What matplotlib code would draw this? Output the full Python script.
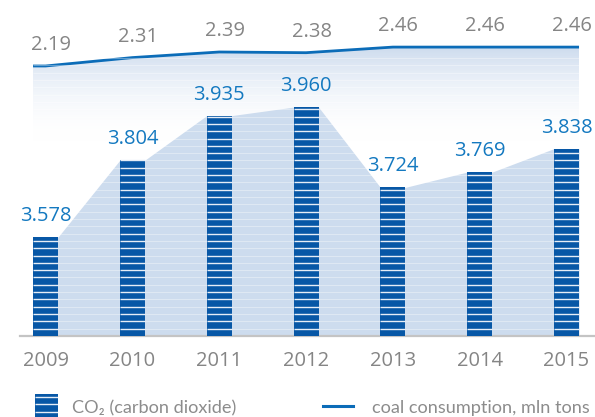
import numpy as np
import matplotlib
matplotlib.use("Agg")
import matplotlib.pyplot as plt
from matplotlib.patches import Polygon, Rectangle
from matplotlib.lines import Line2D
from matplotlib.colors import LinearSegmentedColormap
from matplotlib import font_manager

plt.rcParams['font.family'] = ['Open Sans', 'DejaVu Sans']

# ---- data ----
years = ["2009", "2010", "2011", "2012", "2013", "2014", "2015"]
co2 = [3.578, 3.804, 3.935, 3.960, 3.724, 3.769, 3.838]
coal = [2.19, 2.31, 2.39, 2.38, 2.46, 2.46, 2.46]

# ---- styling ----
BAR_BLUE = "#0757a6"
AREA_BLUE = "#cddcee"
LINE_BLUE = "#0b6cb8"
LABEL_BLUE = "#1479c0"
GREY = "#858585"
AXIS_GREY = "#c4c4c4"

W, H = 595, 417
fig = plt.figure(figsize=(W / 100, H / 100), dpi=100)
ax = fig.add_axes([20 / W, 81 / H, 575 / W, 316 / H])
ax2 = ax.twinx()

x = np.arange(len(years))
bw = 0.288
co2_lo, co2_hi = 3.287, 4.216
coal_lo, coal_hi = -1.667, 2.847

# ---- coal line with gradient fill below it (secondary axis, drawn behind) ----
lx = np.concatenate([[x[0] - bw / 2], x, [x[-1] + bw / 2]])
ly = np.concatenate([[coal[0]], coal, [coal[-1]]])
g_bottom, g_top = 1.10, 2.60
grad_cmap = LinearSegmentedColormap.from_list(
    "fade", [(1, 1, 1, 0.0), (0.757, 0.827, 0.918, 1.0)])
grad = np.linspace(0, 1, 256).reshape(-1, 1)
im = ax2.imshow(grad, extent=(lx[0], lx[-1], g_bottom, g_top), origin="lower",
                aspect="auto", cmap=grad_cmap, interpolation="bilinear", zorder=1)
clip = Polygon(np.column_stack([np.concatenate([lx, [lx[-1], lx[0]]]),
                                np.concatenate([ly, [g_bottom, g_bottom]])]),
               closed=True, transform=ax2.transData, facecolor="none", edgecolor="none")
ax2.add_patch(clip)
im.set_clip_path(clip)
ax2.plot(lx, ly, color=LINE_BLUE, lw=2.0, solid_capstyle="butt", zorder=3)
for xi, v in zip(x, coal):
    ax2.annotate(f"{v:.2f}", (xi, v), xytext=(4, 11.5), textcoords="offset points",
                 ha="center", va="baseline", fontsize=14.5, color=GREY)
ax2.set_ylim(coal_lo, coal_hi)

# ---- CO2 area joining the bar tops ----
ax_x, ax_y = [], []
for xi, v in zip(x, co2):
    ax_x += [xi - bw / 2, xi + bw / 2]
    ax_y += [v, v]
ax.fill_between(ax_x, ax_y, co2_lo, color=AREA_BLUE, lw=0, zorder=1)

# faint horizontal stripes running through the filled regions
step = 0.0215
stripe_y = co2_lo + step * np.arange(1, int((co2_hi - co2_lo) / step))
area_stripes = stripe_y[stripe_y < 4.12]
ax.hlines(area_stripes, ax_x[0], ax_x[-1], colors="white", lw=0.8, alpha=0.35, zorder=2)

# ---- striped CO2 bars ----
ax.bar(x, np.array(co2) - co2_lo, bottom=co2_lo, width=bw, color=BAR_BLUE, zorder=3)
for xi, v in zip(x, co2):
    ys = stripe_y[stripe_y < v]
    ax.hlines(ys, xi - bw / 2, xi + bw / 2, colors="#e6edf6", lw=1.0, zorder=4)
    ax.annotate(f"{v:.3f}", (xi, v), xytext=(0, 11.5), textcoords="offset points",
                ha="center", va="baseline", fontsize=14.5, color=LABEL_BLUE)

ax.set_xlim(-0.294, 6.328)
ax.set_ylim(co2_lo, co2_hi)
ax.set_xticks(x)
ax.set_xticklabels(years, fontsize=14.5, color=GREY)
ax.tick_params(axis="x", length=0, pad=11)
ax.set_yticks([])
ax2.set_yticks([])
for a in (ax, ax2):
    for s in ("top", "right", "left"):
        a.spines[s].set_visible(False)
ax2.spines["bottom"].set_visible(False)
ax.spines["bottom"].set_color(AXIS_GREY)
ax.spines["bottom"].set_linewidth(1.6)

ax.set_zorder(2)
ax.patch.set_visible(False)
ax2.set_zorder(1)

# ---- legend ----
names = {f.name for f in font_manager.fontManager.ttflist}
leg_font = [f for f in ['Liberation Sans Narrow', 'Lato'] if f in names] + ['DejaVu Sans']
leg_size = 14.5 if leg_font[0] == 'Liberation Sans Narrow' else 13.1
leg_ax = fig.add_axes([35 / W, 0, 23 / W, 23 / H])
leg_ax.set_xlim(0, 1)
leg_ax.set_ylim(0, 23)
leg_ax.add_patch(Rectangle((0, 0), 1, 23, color=BAR_BLUE))
leg_ax.hlines([5.5, 12.8, 20.1], 0, 1, colors="#e6edf6", lw=1.0)
leg_ax.axis("off")
fig.text(72 / W, 4 / H, "CO\u2082 (carbon dioxide)", fontsize=leg_size, color="#8c8c8c",
         ha="left", va="baseline", family=leg_font)
fig.add_artist(Line2D([323 / W, 353 / W], [11 / H, 11 / H], color=LINE_BLUE, lw=2.2,
                      transform=fig.transFigure))
fig.text(372 / W, 4 / H, "coal consumption, mln tons", fontsize=leg_size, color="#8c8c8c",
         ha="left", va="baseline", family=leg_font)

fig.savefig("out.png", dpi=100)
